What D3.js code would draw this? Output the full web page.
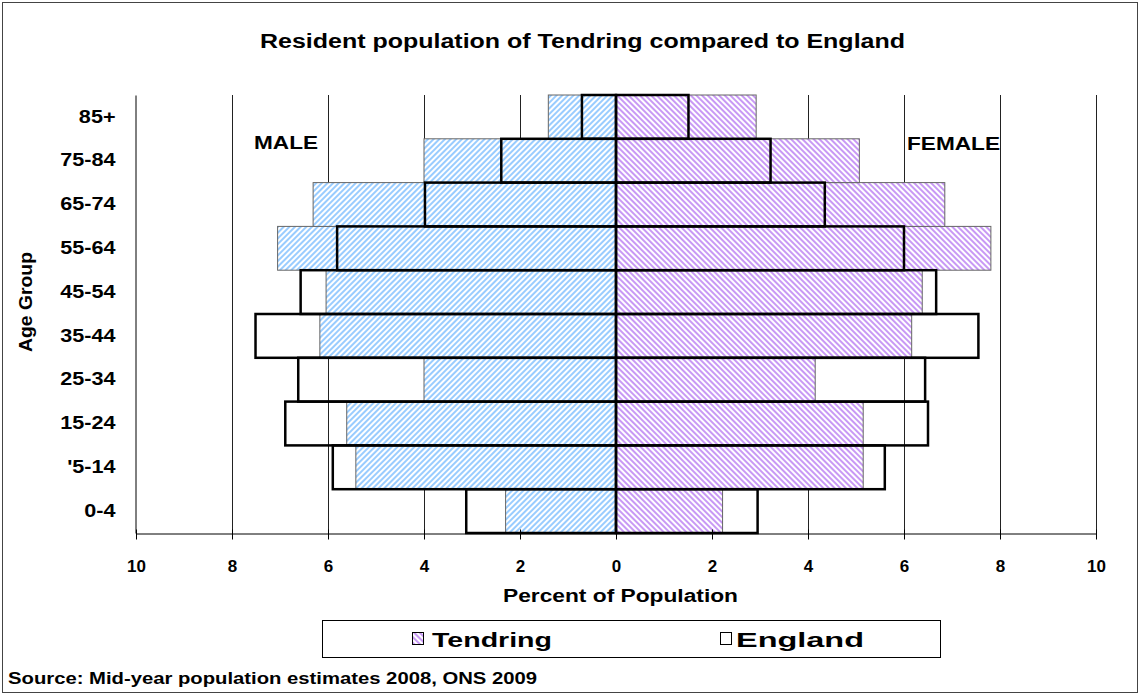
<!DOCTYPE html>
<html>
<head>
<meta charset="utf-8">
<script src="https://cdnjs.cloudflare.com/ajax/libs/d3/7.8.5/d3.min.js"></script>
<style>
  body { margin: 0; background: #fff; }
  text { font-family: "Liberation Sans", Arial, sans-serif; fill: #000; }
  .tick line { stroke: #000; }
  .domain { stroke: #000; }
</style>
</head>
<body>
<svg></svg>
<script>
var width = 1140;
var height = 695;

// age groups, bottom to top
var ageGroups = ["0-4", "'5-14", "15-24", "25-34", "35-44", "45-54", "55-64", "65-74", "75-84", "85+"];

// percent of population
var tendringMale   = [2.30, 5.42, 5.61, 4.00, 6.17, 6.04, 7.05, 6.31, 4.00, 1.41];
var tendringFemale = [2.22, 5.15, 5.15, 4.15, 6.16, 6.38, 7.81, 6.85, 5.07, 2.92];
var englandMale    = [3.12, 5.90, 6.89, 6.62, 7.51, 6.57, 5.81, 3.98, 2.39, 0.71];
var englandFemale  = [2.95, 5.60, 6.50, 6.44, 7.55, 6.67, 6.00, 4.35, 3.22, 1.51];

var xTickValues = [-10, -8, -6, -4, -2, 0, 2, 4, 6, 8, 10];
var legendLabels = ["Tendring", "England"];

var plot = { "left": 136, "right": 1096, "top": 95, "bottom": 533 };

var svg = d3.select("svg")
            .attr("width", width)
            .attr("height", height);

// outer frame
svg.append("rect")
   .attr("x", 2.5).attr("y", 2.5)
   .attr("width", width - 5).attr("height", height - 5)
   .attr("fill", "#fff")
   .attr("stroke", "#444")
   .attr("stroke-width", 1);

// hatch patterns
var defs = svg.append("defs");
makeHatch("hatchMale", "#99ccff", 45);
makeHatch("hatchFemale", "#c899f5", -45);

function makeHatch(id, colour, angle) {
  var p = defs.append("pattern")
              .attr("id", id)
              .attr("patternUnits", "userSpaceOnUse")
              .attr("width", 4)
              .attr("height", 4)
              .attr("patternTransform", "rotate(" + angle + ")");
  p.append("rect").attr("width", 4).attr("height", 4).attr("fill", "#fff");
  p.append("rect").attr("width", 2).attr("height", 4).attr("fill", colour);
}

var scaleX = d3.scaleLinear()
               .domain([-10, 10])
               .range([plot.left, plot.right]);

var scaleY = d3.scaleBand()
               .domain(ageGroups.slice().reverse())
               .range([plot.top, plot.bottom])
               .padding(0);

// build rows
var rows = ageGroups.map(function(a, i) {
  return { age: a,
           tMale: tendringMale[i], tFemale: tendringFemale[i],
           eMale: englandMale[i], eFemale: englandFemale[i] };
});

drawGrid();
drawBars(rows);
xAxis(scaleX);
yAxis(scaleY);
drawLabels();
drawLegend();

function drawGrid() {
  svg.append("g")
     .selectAll("line")
     .data(xTickValues.filter(function(d) { return d !== -10 && d !== 0; }))
     .enter()
     .append("line")
     .attr("x1", function(d) { return Math.round(scaleX(d)) + 0.5; })
     .attr("x2", function(d) { return Math.round(scaleX(d)) + 0.5; })
     .attr("y1", plot.top)
     .attr("y2", plot.bottom)
     .attr("stroke", "#222")
     .attr("stroke-width", 1);
}

function drawBars(dataset) {
  var g = svg.append("g");

  // Tendring, hatched
  g.selectAll(".tMale")
   .data(dataset)
   .enter()
   .append("rect")
   .attr("class", "tMale")
   .attr("x", function(d) { return scaleX(-d.tMale); })
   .attr("y", function(d) { return scaleY(d.age); })
   .attr("width", function(d) { return scaleX(0) - scaleX(-d.tMale); })
   .attr("height", scaleY.bandwidth())
   .attr("fill", "url(#hatchMale)")
   .attr("stroke", "#666")
   .attr("stroke-width", 1);

  g.selectAll(".tFemale")
   .data(dataset)
   .enter()
   .append("rect")
   .attr("class", "tFemale")
   .attr("x", scaleX(0))
   .attr("y", function(d) { return scaleY(d.age); })
   .attr("width", function(d) { return scaleX(d.tFemale) - scaleX(0); })
   .attr("height", scaleY.bandwidth())
   .attr("fill", "url(#hatchFemale)")
   .attr("stroke", "#666")
   .attr("stroke-width", 1);

  // England, outline only
  g.selectAll(".eMale")
   .data(dataset)
   .enter()
   .append("rect")
   .attr("class", "eMale")
   .attr("x", function(d) { return scaleX(-d.eMale); })
   .attr("y", function(d) { return scaleY(d.age); })
   .attr("width", function(d) { return scaleX(0) - scaleX(-d.eMale); })
   .attr("height", scaleY.bandwidth())
   .attr("fill", "none")
   .attr("stroke", "#000")
   .attr("stroke-width", 2.5);

  g.selectAll(".eFemale")
   .data(dataset)
   .enter()
   .append("rect")
   .attr("class", "eFemale")
   .attr("x", scaleX(0))
   .attr("y", function(d) { return scaleY(d.age); })
   .attr("width", function(d) { return scaleX(d.eFemale) - scaleX(0); })
   .attr("height", scaleY.bandwidth())
   .attr("fill", "none")
   .attr("stroke", "#000")
   .attr("stroke-width", 2.5);
}

function xAxis(scale) {
  var axis = d3.axisBottom(scale)
               .tickValues(xTickValues)
               .tickFormat(function(d) { return Math.abs(d); })
               .tickSizeInner(6)
               .tickSizeOuter(0)
               .tickPadding(20);

  var g = svg.append("g")
             .attr("transform", "translate(0," + (plot.bottom + 0.5) + ")")
             .call(axis);

  g.selectAll(".tick line").attr("y1", -4);
  g.selectAll("text")
   .style("font-size", "17px")
   .style("font-weight", "bold");
}

function yAxis(scale) {
  var axis = d3.axisLeft(scale)
               .tickSize(0)
               .tickPadding(0);

  var g = svg.append("g")
             .attr("transform", "translate(" + (plot.left - 0.5) + ",0)")
             .call(axis);

  // labels a little wider than plain Arial, as in the original
  var stretch = 1.2;
  g.selectAll("text")
   .attr("x", -20 / stretch)
   .attr("transform", "scale(" + stretch + ",1)")
   .style("font-size", "18px")
   .style("font-weight", "bold");
}

// text stretched to the width it has in the original picture
function label(x, y, size, weight, str, len) {
  return svg.append("text")
            .attr("x", x).attr("y", y)
            .attr("textLength", len)
            .attr("lengthAdjust", "spacingAndGlyphs")
            .style("font-size", size + "px")
            .style("font-weight", weight)
            .text(str);
}

function drawLabels() {
  label(260, 48, 20, "bold", "Resident population of Tendring compared to England", 645);
  label(503, 602, 18, "bold", "Percent of Population", 235);
  label(254, 149, 18, "bold", "MALE", 64);
  label(907, 150, 18, "bold", "FEMALE", 93);
  label(8, 684, 17, "bold", "Source: Mid-year population estimates 2008, ONS 2009", 529);

  svg.append("text")
     .attr("transform", "translate(32,352) rotate(-90)")
     .attr("textLength", 100)
     .attr("lengthAdjust", "spacingAndGlyphs")
     .style("font-size", "18px")
     .style("font-weight", "bold")
     .text("Age Group");
}

function drawLegend() {
  var g = svg.append("g");

  g.append("rect")
   .attr("x", 322.5).attr("y", 620.5)
   .attr("width", 618).attr("height", 37)
   .attr("fill", "#fff")
   .attr("stroke", "#000")
   .attr("stroke-width", 1);

  var fills = ["url(#hatchFemale)", "#fff"];
  var boxX = [412, 720];
  var textX = [20, 16];
  var textLen = [120, 128];

  var item = g.selectAll(".item")
              .data(legendLabels)
              .enter()
              .append("g")
              .attr("transform", function(d, i) { return "translate(" + boxX[i] + ",632)"; });

  item.append("rect")
      .attr("x", 0.5).attr("y", 0.5)
      .attr("width", 11).attr("height", 12)
      .attr("fill", function(d, i) { return fills[i]; })
      .attr("stroke", "#000")
      .attr("stroke-width", 1);

  item.append("text")
      .attr("x", function(d, i) { return textX[i]; })
      .attr("y", 15)
      .attr("textLength", function(d, i) { return textLen[i]; })
      .attr("lengthAdjust", "spacingAndGlyphs")
      .style("font-size", "21px")
      .style("font-weight", "bold")
      .text(function(d) { return d; });
}
</script>
</body>
</html>
